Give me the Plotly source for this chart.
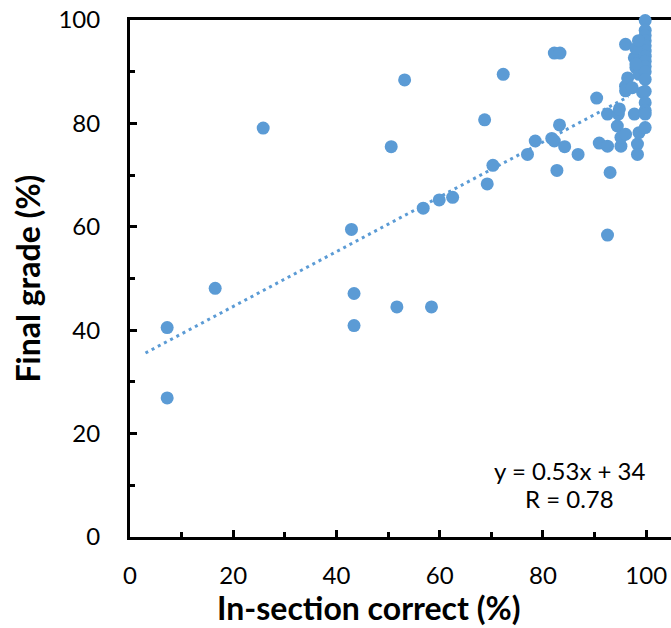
import plotly.graph_objects as go

# In-section correct (%) vs Final grade (%)
in_section = [
    7.2, 7.2, 16.5, 25.8, 42.9, 43.4, 43.4, 50.6, 51.7, 53.2,
    56.8, 58.4, 59.9, 62.5, 68.7, 69.2, 70.3, 72.3, 77.0, 78.5,
    81.7, 82.2, 82.2, 83.3, 82.7, 83.2, 84.2, 86.8, 90.4, 90.9,
    92.5, 92.5, 92.5, 93.0, 94.4, 94.6, 94.8, 95.1, 95.1, 96.0,
    96.0, 96.0, 96.0, 96.4, 97.3, 97.7, 97.7, 98.0, 98.3, 98.3,
    98.6, 98.6, 99.3, 99.8, 99.8, 99.8, 99.8, 99.8, 99.8, 99.8,
    99.8, 99.8, 99.8, 99.8, 99.8, 99.8, 99.8, 99.8, 99.8, 98.0,
    98.5, 98.0,
]
final_grade = [
    40.5, 26.9, 48.1, 79.1, 59.5, 47.1, 40.9, 75.5, 44.5, 88.4,
    63.6, 44.5, 65.2, 65.7, 80.7, 68.3, 71.9, 89.5, 74.0, 76.6,
    77.1, 76.6, 93.6, 93.6, 70.9, 79.7, 75.5, 74.0, 84.9, 76.2,
    75.6, 81.8, 58.4, 70.5, 79.5, 81.8, 82.8, 75.6, 77.3, 77.9,
    95.3, 87.2, 86.3, 88.8, 86.9, 92.7, 81.8, 90.8, 76.0, 74.0,
    78.2, 89.5, 86.0, 99.9, 98.0, 97.0, 96.0, 95.0, 94.0, 93.0,
    92.0, 91.0, 90.0, 88.5, 86.2, 84.0, 82.5, 81.8, 79.2, 94.5,
    96.0, 91.5,
]

# Trendline (as stated on the chart)
slope = 0.53
intercept = 34
trend_x = [3, 96.5]
trend_y = [slope * v + intercept for v in trend_x]

eq_text = "y = 0.53x + 34"
r_text = "R = 0.78"
x_title = "In-section correct (%)"
y_title = "Final grade (%)"
x_ticks = [0, 20, 40, 60, 80, 100]
y_ticks = [0, 20, 40, 60, 80, 100]

BLUE = "#5B9BD5"
FONT = "Lato"

fig = go.Figure()
fig.add_trace(go.Scatter(
    x=trend_x, y=trend_y, mode="lines",
    line=dict(color=BLUE, width=3, dash="3px,4px"),
    hoverinfo="skip", showlegend=False, cliponaxis=False,
))
fig.add_trace(go.Scatter(
    x=in_section, y=final_grade, mode="markers",
    marker=dict(color=BLUE, size=13, line=dict(width=0)),
    showlegend=False, cliponaxis=False,
))

axis_common = dict(
    showgrid=False, zeroline=False, showline=True, linecolor="black",
    linewidth=3, ticks="inside", tickcolor="black", tickwidth=3, ticklen=7,
    tickfont=dict(family=FONT, size=24, color="black"),
    layer="below traces",
    minor=dict(ticks="inside", dtick=10, ticklen=5, tickwidth=3, tickcolor="black", showgrid=False),
)

fig.update_layout(
    width=671, height=628,
    margin=dict(l=130, r=0, t=20, b=91),
    paper_bgcolor="white", plot_bgcolor="white",
    font=dict(family=FONT, color="black"),
    xaxis=dict(range=[0, 104.8], tickvals=x_ticks, mirror=True,
               ticklabelstandoff=15, **axis_common),
    yaxis=dict(range=[0, 100], tickvals=y_ticks, ticklabelstandoff=22, **axis_common),
    annotations=[
        dict(text="<b>" + x_title + "</b>", xref="paper", yref="paper",
             x=(369 - 130) / 541, y=(537 - 607) / 517,
             showarrow=False, font=dict(family=FONT, size=32, color="black"),
             xanchor="center", yanchor="middle"),
        dict(text="<b>" + y_title + "</b>", xref="paper", yref="paper",
             x=(27 - 130) / 541, y=0.5, textangle=-90,
             showarrow=False, font=dict(family=FONT, size=32, color="black"),
             xanchor="center", yanchor="middle"),
        dict(text=eq_text, xref="paper", yref="paper",
             x=(569 - 130) / 541, y=(537 - 470) / 517,
             showarrow=False, font=dict(family=FONT, size=24, color="black"),
             xanchor="center", yanchor="middle"),
        dict(text=r_text, xref="paper", yref="paper",
             x=(569 - 130) / 541, y=(537 - 498) / 517,
             showarrow=False, font=dict(family=FONT, size=24, color="black"),
             xanchor="center", yanchor="middle"),
    ],
)

fig.write_html("out.html")
